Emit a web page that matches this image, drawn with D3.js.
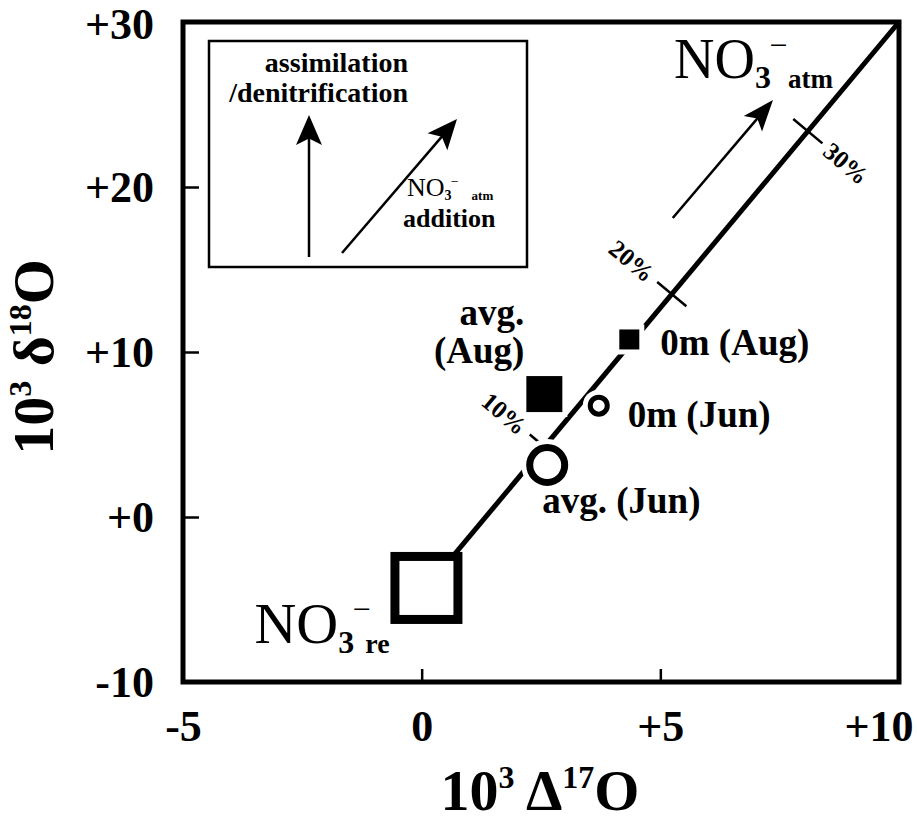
<!DOCTYPE html>
<html>
<head>
<meta charset="utf-8">
<script src="https://cdn.jsdelivr.net/npm/d3@7"></script>
<style>
  body { margin: 0; background: #fff; }
  text { font-family: "Liberation Serif", "Times New Roman", serif; fill: #000; }
</style>
</head>
<body>
<div id="chart"></div>
<script>
// axis ticks
const xTicks = [-5, 0, 5, 10];
const xTickLabels = ["-5", "0", "+5", "+10"];
const yTicks = [-10, 0, 10, 20, 30];
const yTickLabels = ["-10", "+0", "+10", "+20", "+30"];

// samples (10^3 D17O, 10^3 d18O)
const sampleNames = ["avg. (Jun)", "0m (Jun)", "avg. (Aug)", "0m (Aug)"];
const sampleD17 = [2.63, 3.71, 2.57, 4.35];
const sampleD18 = [3.15, 6.75, 7.45, 10.76];

// end members of the mixing line
const endNames = ["re", "atm"];
const endD17 = [0.1, 10];
const endD18 = [-4.3, 30];

// fraction of NO3atm marked on the mixing line
const mixPercent = ["10%", "20%", "30%"];
const mixD17 = [2.57, 5.24, 8.09];

// "towards NO3atm" arrow
const trendD17 = [5.26, 7.36];
const trendD18 = [18.12, 25.27];

const W = 917, H = 822;
const frame = { left: 183, right: 899, top: 22, bottom: 682 };

const svg = d3.select("#chart").append("svg")
  .attr("width", W).attr("height", H);

const x = d3.scaleLinear().domain([-5, 10]).range([frame.left, frame.right]);
const y = d3.scaleLinear().domain([-10, 30]).range([frame.bottom, frame.top]);

// axes with inward ticks
const yAxis = d3.axisLeft(y).tickValues(yTicks)
  .tickFormat((d, i) => yTickLabels[i])
  .tickSizeInner(-16).tickSizeOuter(0).tickPadding(29);
const gy = svg.append("g").attr("transform", `translate(${frame.left},0)`).call(yAxis);

const xAxis = d3.axisBottom(x).tickValues(xTicks)
  .tickFormat((d, i) => xTickLabels[i])
  .tickSizeInner(-13).tickSizeOuter(0);
const gx = svg.append("g").attr("transform", `translate(0,${frame.bottom})`).call(xAxis);

[gx, gy].forEach(g => {
  g.select(".domain").remove();
  g.selectAll(".tick line").attr("stroke", "#000").attr("stroke-width", 2.5);
  g.selectAll(".tick text").attr("fill", "#000")
    .style("font-size", "44px").style("font-weight", "bold");
});
gy.selectAll(".tick text").filter(d => d === 30).attr("dy", "0.38em");
gx.selectAll(".tick text").attr("y", 59).attr("dy", 0);
gx.selectAll(".tick text").filter((d, i) => i === xTicks.length - 1)
  .attr("text-anchor", "end").attr("x", 14);

// frame
svg.append("rect")
  .attr("x", frame.left).attr("y", frame.top)
  .attr("width", frame.right - frame.left).attr("height", frame.bottom - frame.top)
  .attr("fill", "none").attr("stroke", "#000").attr("stroke-width", 5);

// axis titles
const xTitle = svg.append("text")
  .attr("x", 540).attr("y", 810).attr("text-anchor", "middle")
  .style("font-size", "58px").style("font-weight", "bold");
xTitle.append("tspan").text("10");
xTitle.append("tspan").attr("dy", -22).style("font-size", "32px").text("3");
xTitle.append("tspan").attr("dy", 22).text(" Δ");
xTitle.append("tspan").attr("dy", -22).style("font-size", "32px").text("17");
xTitle.append("tspan").attr("dy", 22).text("O");

const yTitle = svg.append("text")
  .attr("transform", "translate(53,357) rotate(-90)").attr("text-anchor", "middle")
  .style("font-size", "58px").style("font-weight", "bold");
yTitle.append("tspan").text("10");
yTitle.append("tspan").attr("dy", -22).style("font-size", "32px").text("3");
yTitle.append("tspan").attr("dy", 22).text(" δ");
yTitle.append("tspan").attr("dy", -22).style("font-size", "32px").text("18");
yTitle.append("tspan").attr("dy", 22).text("O");

// mixing line
const plot = svg.append("g");
const lineGen = d3.line().x(d => x(d[0])).y(d => y(d[1]));
const mixPts = endD17.map((d, i) => [d, endD18[i]]);
plot.append("path").attr("d", lineGen(mixPts))
  .attr("fill", "none").attr("stroke", "#000").attr("stroke-width", 5);

// ticks and labels along the mixing line
const p0 = [x(endD17[0]), y(endD18[0])], p1 = [x(endD17[1]), y(endD18[1])];
const ang = Math.atan2(p1[1] - p0[1], p1[0] - p0[0]);
const perp = [Math.cos(ang + Math.PI / 2), Math.sin(ang + Math.PI / 2)];
const perpDeg = (ang + Math.PI / 2) * 180 / Math.PI;
const lineY = d => endD18[0] + (d - endD17[0]) * (endD18[1] - endD18[0]) / (endD17[1] - endD17[0]);
mixD17.forEach((d, i) => {
  const cx = x(d), cy = y(lineY(d));
  plot.append("line")
    .attr("x1", cx - perp[0] * 19).attr("y1", cy - perp[1] * 19)
    .attr("x2", cx + perp[0] * 19).attr("y2", cy + perp[1] * 19)
    .attr("stroke", "#000").attr("stroke-width", 2.5);
  const side = i === 2 ? 50 : -52;
  plot.append("text")
    .attr("transform", `translate(${cx + perp[0] * side},${cy + perp[1] * side}) rotate(${perpDeg})`)
    .attr("text-anchor", "middle").attr("dy", "0.35em")
    .style("font-size", "25px").style("font-weight", "bold")
    .text(mixPercent[i]);
});

// trend arrow
function arrow(g, x1, y1, x2, y2, len, wid, sw) {
  const a = Math.atan2(y2 - y1, x2 - x1);
  const c = Math.cos(a), s = Math.sin(a);
  g.append("line")
    .attr("x1", x1).attr("y1", y1)
    .attr("x2", x2 - c * len * 0.7).attr("y2", y2 - s * len * 0.7)
    .attr("stroke", "#000").attr("stroke-width", sw);
  const bx = x2 - c * len, by = y2 - s * len;
  const nx = x2 - c * len * 0.78, ny = y2 - s * len * 0.78;
  g.append("path")
    .attr("d", `M${x2},${y2}L${bx - s * wid / 2},${by + c * wid / 2}L${nx},${ny}L${bx + s * wid / 2},${by - c * wid / 2}Z`)
    .attr("fill", "#000");
}
arrow(plot, x(trendD17[0]), y(trendD18[0]), x(trendD17[1]), y(trendD18[1]), 31, 24, 2.5);

// NO3- labels
function no3(g, x0, y0, sub, s) {
  const t = g.append("text").attr("x", x0).attr("y", y0)
    .style("font-size", s.no + "px").text("NO");
  const w = t.node().getComputedTextLength();
  const t3 = g.append("text").attr("x", x0 + w).attr("y", y0 + s.no * 0.17)
    .style("font-size", s.three + "px").style("font-weight", "bold").text("3");
  const w3 = t3.node().getComputedTextLength();
  g.append("text").attr("x", x0 + w + w3 * 0.9).attr("y", y0 - s.no * 0.4)
    .style("font-size", s.three + "px").text("−");
  g.append("text").attr("x", x0 + w + w3 + s.gap).attr("y", y0 + s.no * 0.17)
    .style("font-size", s.sub + "px").style("font-weight", "bold").text(sub);
}
no3(plot, x(endD17[0]) - 172, y(endD18[0]) + 55, endNames[0], { no: 58, three: 32, sub: 28, gap: 11 });
no3(plot, x(endD17[1]) - 225, y(endD18[1]) + 56, endNames[1], { no: 56, three: 32, sub: 27, gap: 17 });

// NO3re end member: big open square
const reSide = 63;
plot.append("rect")
  .attr("x", x(endD17[0]) - reSide / 2).attr("y", y(endD18[0]) - reSide / 2)
  .attr("width", reSide).attr("height", reSide)
  .attr("fill", "#fff").attr("stroke", "#000").attr("stroke-width", 9);

// samples
const markers = [
  { shape: "circle", r: 17.5, sw: 7, fill: "#fff" },
  { shape: "circle", r: 8.5, sw: 5, fill: "#fff" },
  { shape: "square", r: 18, sw: 0, fill: "#000" },
  { shape: "square", r: 10, sw: 0, fill: "#000" }
];
sampleNames.forEach((n, i) => {
  const m = markers[i], cx = x(sampleD17[i]), cy = y(sampleD18[i]);
  if (m.shape === "circle") {
    plot.append("circle").attr("cx", cx).attr("cy", cy).attr("r", m.r + m.sw / 2 + 5).attr("fill", "#fff");
    plot.append("circle").attr("cx", cx).attr("cy", cy).attr("r", m.r)
      .attr("fill", m.fill).attr("stroke", "#000").attr("stroke-width", m.sw);
  } else {
    plot.append("rect").attr("x", cx - m.r - 5).attr("y", cy - m.r - 5)
      .attr("width", 2 * m.r + 10).attr("height", 2 * m.r + 10).attr("fill", "#fff");
    plot.append("rect").attr("x", cx - m.r).attr("y", cy - m.r)
      .attr("width", 2 * m.r).attr("height", 2 * m.r).attr("fill", m.fill);
  }
});

// sample labels
const lab = (t, px, py, anchor) => plot.append("text").attr("x", px).attr("y", py)
  .attr("text-anchor", anchor).style("font-size", "37px").style("font-weight", "bold").text(t);
lab("avg. (Jun)", x(sampleD17[0]) - 5, y(sampleD18[0]) + 48, "start");
lab("0m (Jun)", x(sampleD17[1]) + 29, y(sampleD18[1]) + 21, "start");
lab("avg.", x(sampleD17[2]) - 20, y(sampleD18[2]) - 69, "end");
lab("(Aug)", x(sampleD17[2]) - 20, y(sampleD18[2]) - 31, "end");
lab("0m (Aug)", x(sampleD17[3]) + 31, y(sampleD18[3]) + 16, "start");

// inset explaining the two processes
const inset = svg.append("g").attr("transform", `translate(${frame.left},${frame.top})`);
inset.append("rect").attr("x", 26).attr("y", 19).attr("width", 318).attr("height", 226)
  .attr("fill", "#fff").attr("stroke", "#000").attr("stroke-width", 2.5);
inset.append("text").attr("x", 225).attr("y", 50).attr("text-anchor", "end")
  .style("font-size", "28px").style("font-weight", "bold").text("assimilation");
inset.append("text").attr("x", 225).attr("y", 80).attr("text-anchor", "end")
  .style("font-size", "28px").style("font-weight", "bold").text("/denitrification");
arrow(inset, 126, 235, 126, 93, 30, 26, 2.5);
arrow(inset, 159, 231, 274, 97, 30, 26, 2.5);
no3(inset, 224, 174, "atm", { no: 26, three: 14, sub: 13, gap: 20 });
inset.append("text").attr("x", 220).attr("y", 205)
  .style("font-size", "26px").style("font-weight", "bold").text("addition");
</script>
</body>
</html>
